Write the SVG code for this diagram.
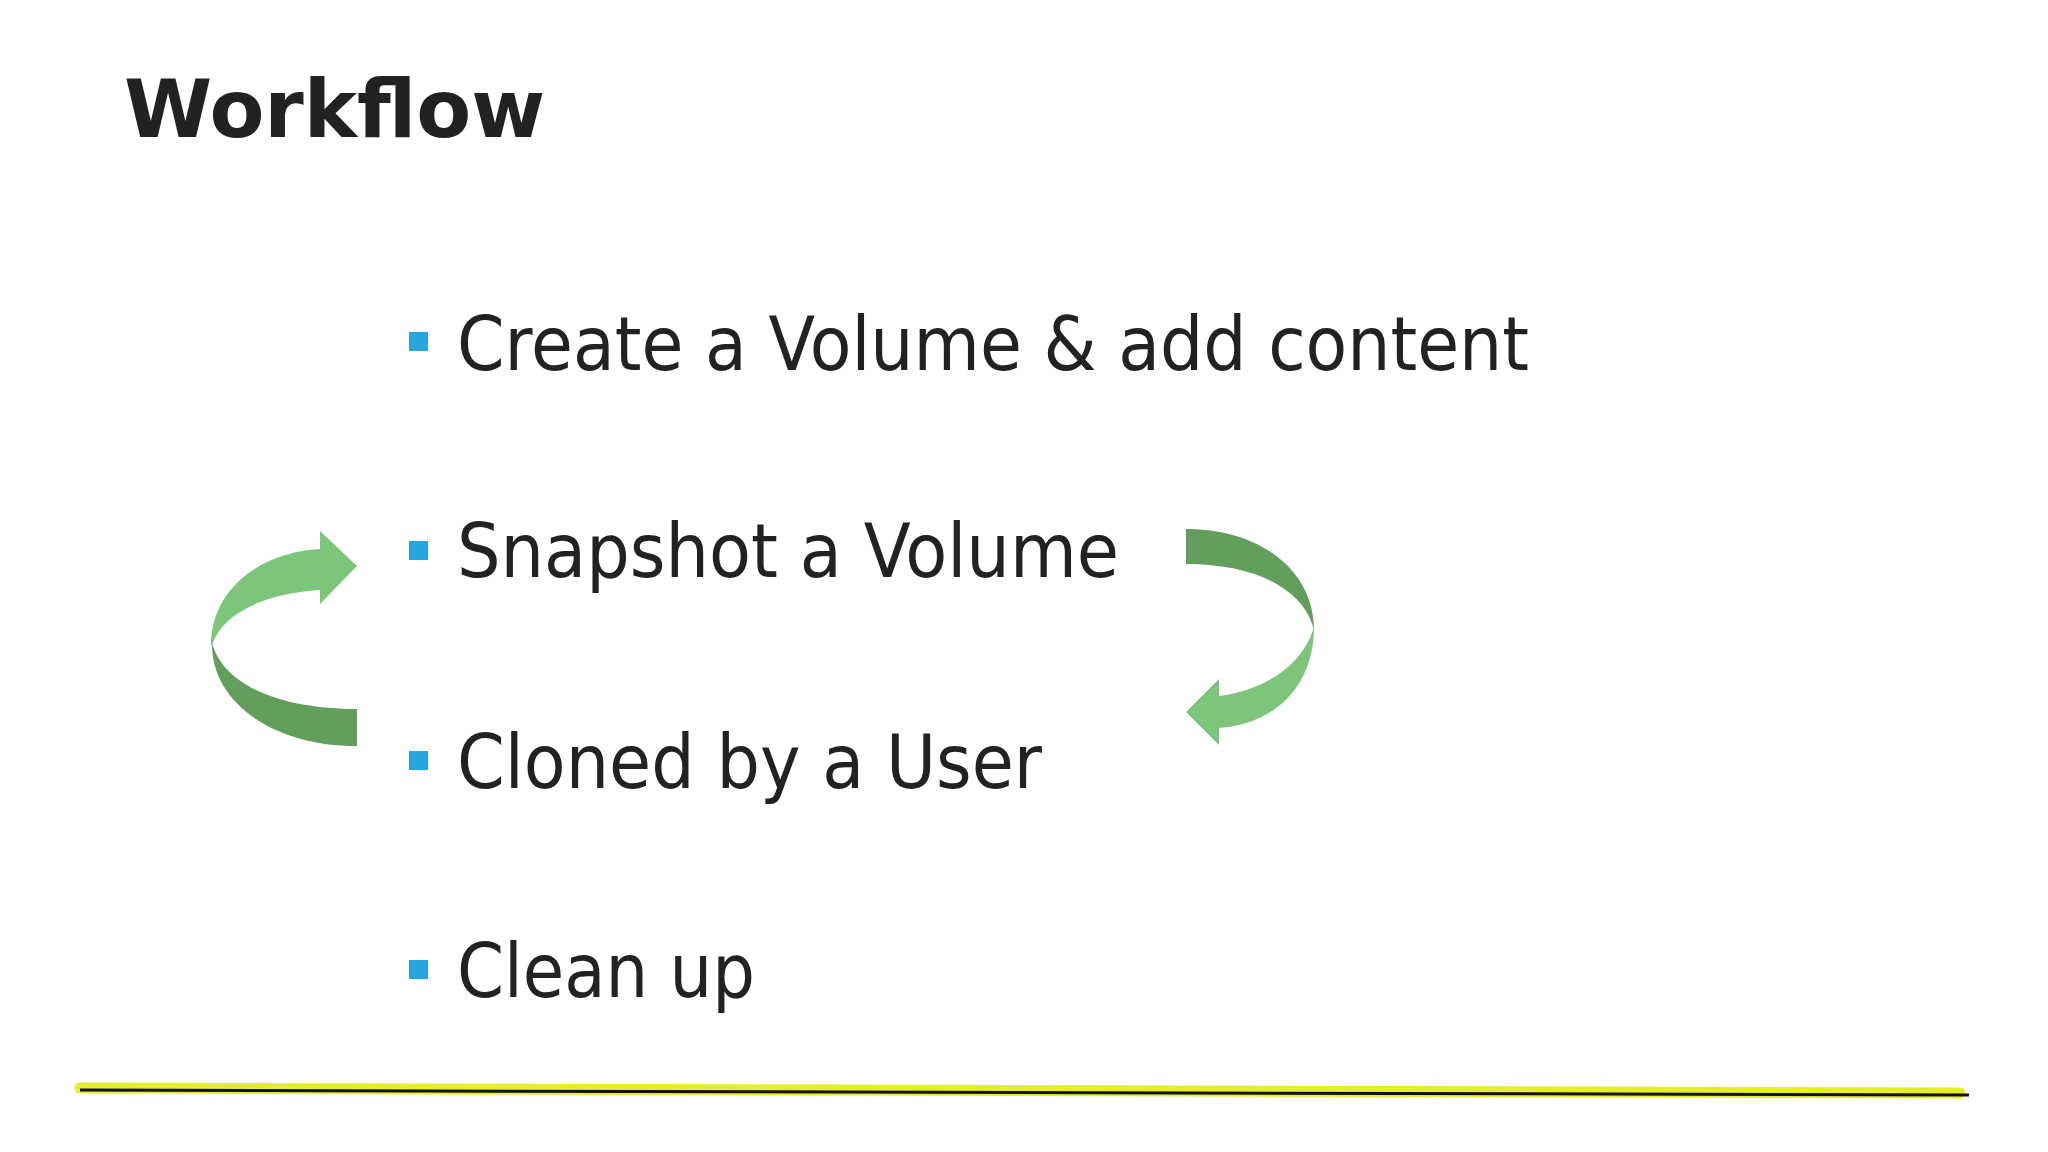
<svg xmlns="http://www.w3.org/2000/svg" width="2048" height="1152" viewBox="0 0 2048 1152">
<style>
.t{font-family:"DejaVu Sans","Liberation Sans",sans-serif;font-size:74px;fill:#222}
.b{fill:#27a5df}
.lt{fill:#7cc57a}
.dk{fill:#629f5d}
</style>
<rect width="2048" height="1152" fill="#fff"/>
<g id="title"><text x="124" y="137" font-family="DejaVu Sans,Verdana,sans-serif" font-weight="bold" font-size="80" fill="#222">Workflow</text></g>
<g id="item1"><rect class="b" x="409" y="332" width="19" height="19"/><text class="t" x="457" y="370" textLength="1072" lengthAdjust="spacingAndGlyphs">Create a Volume &amp; add content</text></g>
<g id="item2"><rect class="b" x="409" y="541" width="19" height="19"/><text class="t" x="457" y="577" textLength="662" lengthAdjust="spacingAndGlyphs">Snapshot a Volume</text></g>
<g id="item3"><rect class="b" x="409" y="751" width="19" height="19"/><text class="t" x="457" y="788" textLength="585" lengthAdjust="spacingAndGlyphs">Cloned by a User</text></g>
<g id="item4"><rect class="b" x="409" y="960" width="19" height="19"/><text class="t" x="457" y="997" textLength="298" lengthAdjust="spacingAndGlyphs">Clean up</text></g>
<g id="connectors">
<path class="dk" d="M357,709 C290,709 225,690 212,643 C211,700 270,746 357,746 Z"/>
<path class="lt" d="M211,645 C211,590 260,552 320,549 L320,531 L357,566 L320,604 L320,590 C260,594 222,615 212,645 Z"/>
<path class="dk" d="M1186,529 C1260,529 1314,570 1314,630 C1305,592 1260,564 1186,564 Z"/>
<path class="lt" d="M1314,622 C1316,690 1270,725 1219,728 L1219,745 L1186,712 L1219,679 L1219,696 C1265,690 1302,665 1313,630 Z"/>
</g>
<g id="rule">
<path d="M80,1088 L1960,1093" stroke="#e4ef2a" stroke-width="11" stroke-linecap="round" fill="none"/>
<path d="M80,1090 L1969,1095" stroke="#111" stroke-width="3" fill="none"/>
</g>
</svg>
